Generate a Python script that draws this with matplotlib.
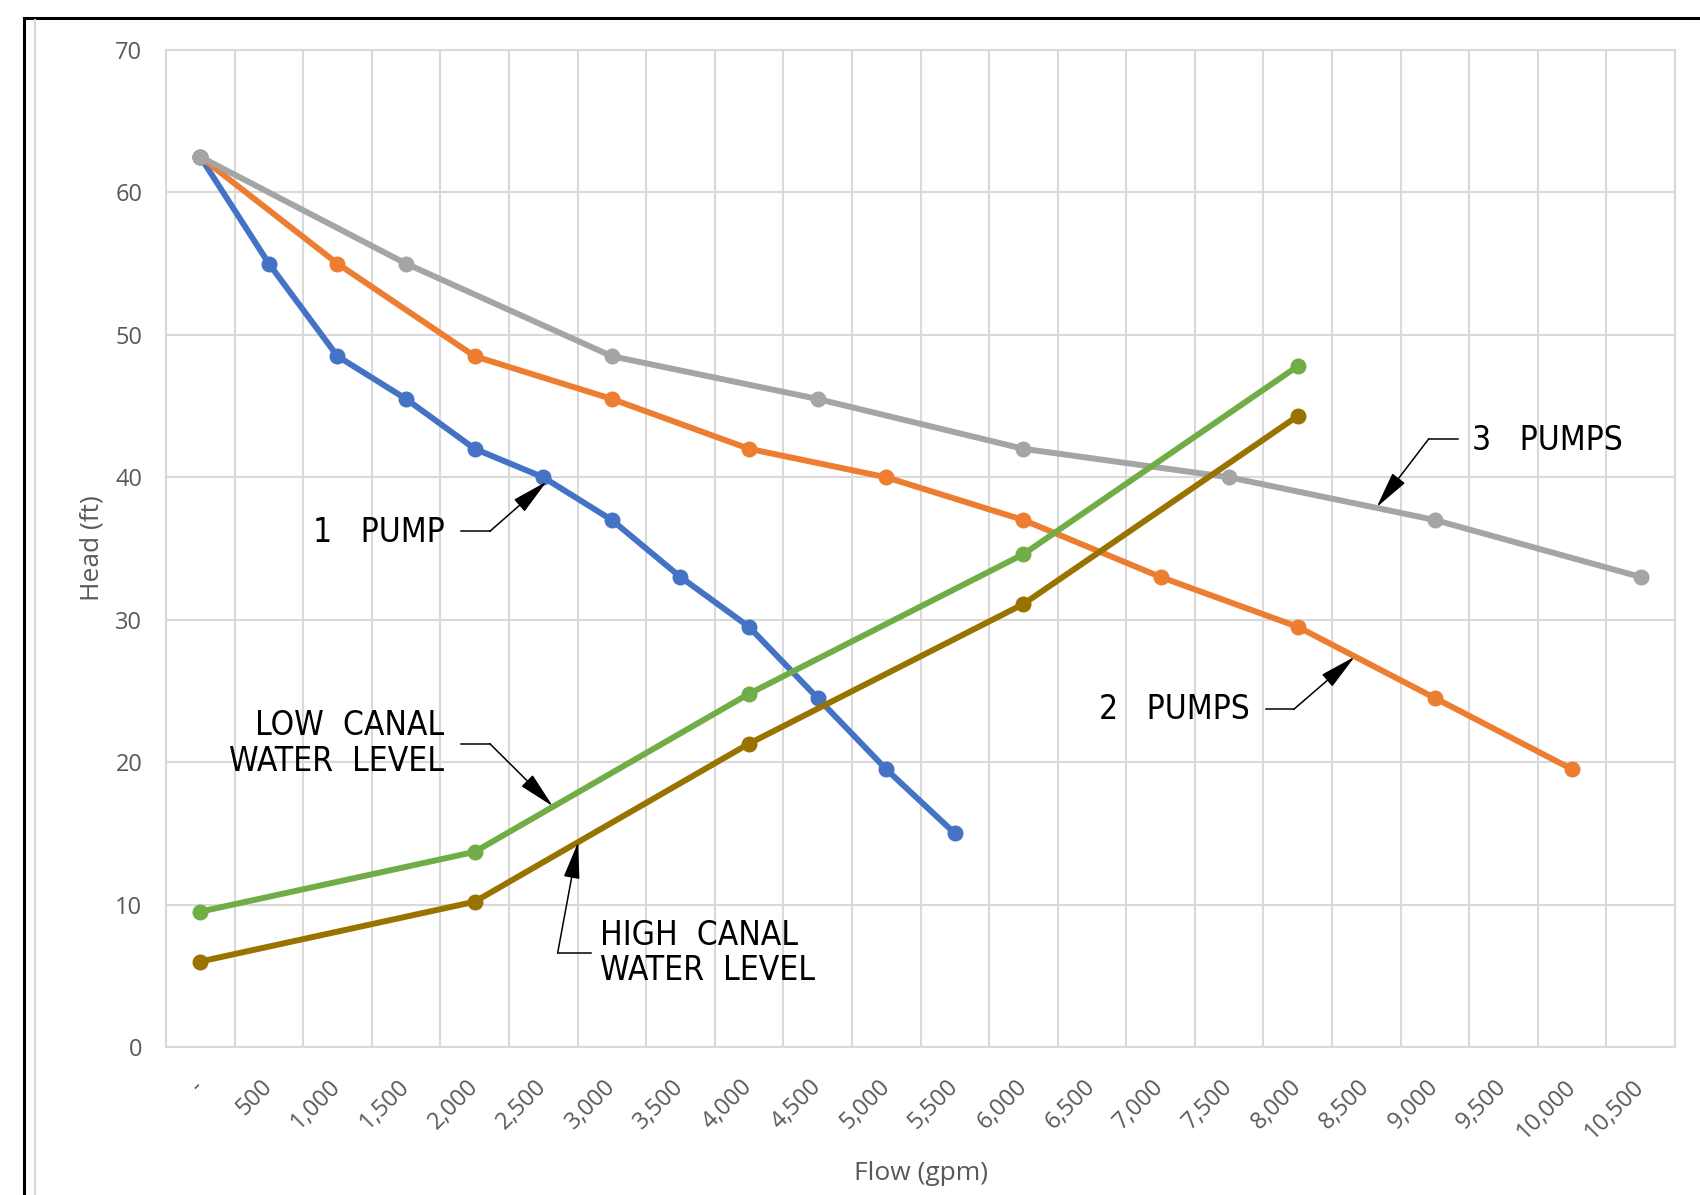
import matplotlib
matplotlib.use("Agg")
import numpy as np
import matplotlib.pyplot as plt
from matplotlib.lines import Line2D

# === DATA: pump curves vs system curves ===
flow_labels = ["-", "500", "1,000", "1,500", "2,000", "2,500", "3,000", "3,500",
               "4,000", "4,500", "5,000", "5,500", "6,000", "6,500", "7,000",
               "7,500", "8,000", "8,500", "9,000", "9,500", "10,000", "10,500"]

N = None
one_pump = [62.5, 55, 48.5, 45.5, 42, 40, 37, 33, 29.5, 24.5, 19.5, 15,
            N, N, N, N, N, N, N, N, N, N]
two_pumps = [62.5, N, 55, N, 48.5, N, 45.5, N, 42, N, 40, N,
             37, N, 33, N, 29.5, N, 24.5, N, 19.5, N]
three_pumps = [62.5, N, N, 55, N, N, 48.5, N, N, 45.5, N, N,
               42, N, N, 40, N, N, 37, N, N, 33]
low_canal = [9.5, N, N, N, 13.7, N, N, N, 24.8, N, N, N,
             34.6, N, N, N, 47.8, N, N, N, N, N]
high_canal = [6.0, N, N, N, 10.2, N, N, N, 21.3, N, N, N,
              31.1, N, N, N, 44.3, N, N, N, N, N]

TICK_FONT = "Open Sans"
NOTE_FONT = ["Liberation Sans Narrow", "DejaVu Sans"]
GRID = "#d9d9d9"
TXT = "#595959"

fig = plt.figure(figsize=(17, 11.95), dpi=100)
ax = fig.add_axes([166 / 1700, 1 - 1047 / 1195, (1675 - 166) / 1700, (1047 - 50) / 1195])

x = np.arange(len(flow_labels))
series = [
    (one_pump, "#4472C4"),
    (two_pumps, "#ED7D31"),
    (three_pumps, "#A5A5A5"),
    (low_canal, "#70AD47"),
    (high_canal, "#997300"),
]
for vals, col in series:
    y = np.array([np.nan if v is None else v for v in vals], dtype=float)
    m = ~np.isnan(y)
    ax.plot(x[m], y[m], color=col, lw=4.3, marker="o", ms=10.5,
            solid_capstyle="round", zorder=3)

ax.set_xlim(-0.5, len(flow_labels) - 0.5)
ax.set_ylim(0, 70)
ax.set_yticks(np.arange(0, 71, 10))
ax.set_xticks(x)
ax.set_xticklabels(flow_labels, rotation=45, ha="right", va="center",
                   rotation_mode="anchor")
ax.set_xticks(np.arange(-0.5, len(flow_labels)), minor=True)
ax.grid(False)
ax.grid(True, which="minor", axis="x", color=GRID, lw=1.5)
ax.grid(True, which="major", axis="y", color=GRID, lw=1.5)
ax.set_axisbelow(True)
for s in ax.spines.values():
    s.set_color(GRID)
    s.set_linewidth(1.5)
ax.tick_params(which="both", length=0)
ax.tick_params(axis="x", pad=26)
ax.tick_params(axis="y", pad=17)
for lab in ax.get_xticklabels() + ax.get_yticklabels():
    lab.set_fontfamily(TICK_FONT)
    lab.set_fontsize(17)
    lab.set_color(TXT)

fig.text(92 / 1700, 1 - 548 / 1195, "Head (ft)", rotation=90, ha="center", va="center",
         fontsize=19, color=TXT, family=TICK_FONT)
fig.text(921 / 1700, 1 - 1174 / 1195, "Flow (gpm)", ha="center", va="center",
         fontsize=19, color=TXT, family=TICK_FONT)


def leader(label, text_xy, ha, start, knee, tip):
    ax.text(text_xy[0], text_xy[1], label, ha=ha, va="center", multialignment=ha,
            fontsize=24, family=NOTE_FONT, fontstretch="condensed", color="black",
            linespacing=1.1, zorder=5)
    ax.plot([start[0], knee[0]], [start[1], knee[1]], color="black", lw=1.1, zorder=5)
    ax.annotate("", xy=tip, xytext=knee, zorder=5,
                arrowprops=dict(arrowstyle="-|>,head_length=1.15,head_width=0.25",
                                mutation_scale=20, color="black", lw=1.1,
                                shrinkA=0, shrinkB=0))


leader("1   PUMP", (3.57, 36.1), "right", (3.80, 36.2), (4.22, 36.2), (5.05, 39.7))
leader("LOW  CANAL\nWATER  LEVEL", (3.55, 21.3), "right", (3.80, 21.3), (4.22, 21.3), (5.14, 16.9))
leader("HIGH  CANAL\nWATER  LEVEL", (5.83, 6.6), "left", (5.70, 6.6), (5.21, 6.6), (5.51, 14.4))
leader("2   PUMPS", (15.30, 23.7), "right", (15.53, 23.7), (15.94, 23.7), (16.83, 27.4))
leader("3   PUMPS", (18.54, 42.6), "left", (18.33, 42.7), (17.91, 42.7), (17.15, 37.9))

# outer frame (black) and chart-area edge (light gray)
fig.add_artist(Line2D([24 / 1700, 24 / 1700], [0, 1 - 18 / 1195], transform=fig.transFigure,
                      color="black", lw=2.2))
fig.add_artist(Line2D([24 / 1700, 1], [1 - 18 / 1195, 1 - 18 / 1195], transform=fig.transFigure,
                      color="black", lw=2.2))
fig.add_artist(Line2D([35 / 1700, 35 / 1700], [0, 1 - 20 / 1195], transform=fig.transFigure,
                      color=GRID, lw=1.5))

fig.savefig("out.png", dpi=100)
